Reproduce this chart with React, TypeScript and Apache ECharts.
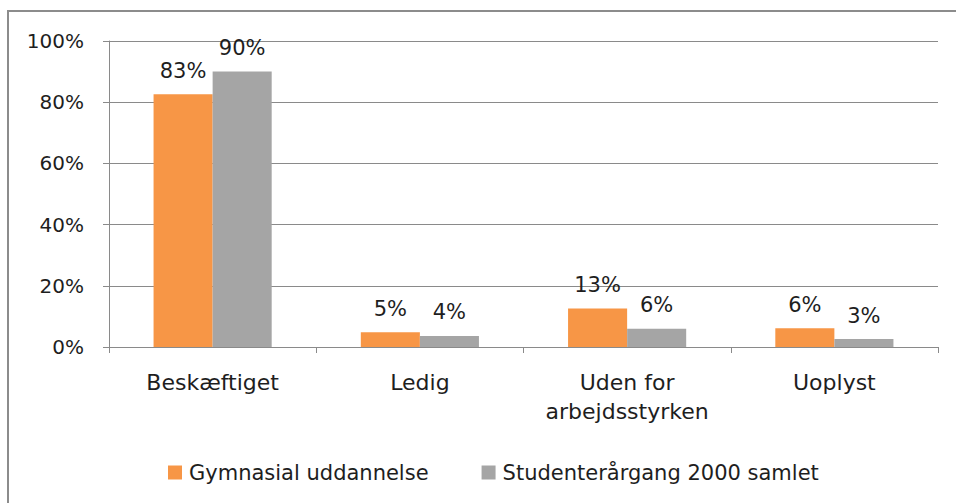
import React, { useEffect, useRef } from "react";
import * as echarts from "echarts";

const categories = ["Beskæftiget", "Ledig", "Uden for\narbejdsstyrken", "Uoplyst"];
const seriesNames = ["Gymnasial uddannelse", "Studenterårgang 2000 samlet"];
const gymnasial = [82.6, 4.8, 12.6, 6.1];
const samlet = [90.0, 3.6, 6.0, 2.6];
const yTicks = [0, 20, 40, 60, 80, 100];

const FONT = "DejaVu Sans";
const TEXT = "#1e1e1e";
const GRID = "#8a8a8a";

export default function App() {
  const ref = useRef<HTMLDivElement>(null);
  useEffect(() => {
    if (!ref.current) return;
    const chart = echarts.init(ref.current, undefined, { renderer: "svg" });
    const label = {
      show: true,
      position: "top",
      distance: 13,
      fontFamily: FONT,
      fontSize: 21,
      color: TEXT,
      formatter: (p: any) => Math.round(p.value) + "%",
    };
    chart.setOption({
      animation: false,
      backgroundColor: "#ffffff",
      graphic: [
        {
          type: "rect",
          shape: { x: 8, y: 11, width: 1000, height: 600 },
          style: { fill: "none", stroke: "#8c8c8c", lineWidth: 2 },
          silent: true,
        },
      ],
      grid: { left: 109, right: 18, top: 41, bottom: 156, containLabel: false },
      legend: {
        left: 163,
        top: 457,
        itemWidth: 14,
        itemHeight: 14,
        itemGap: 53,
        icon: "rect",
        textStyle: { fontFamily: FONT, fontSize: 21, color: TEXT, padding: [0, 0, 0, 2] },
        data: seriesNames,
      },
      xAxis: {
        type: "category",
        data: categories,
        axisLine: { show: true, lineStyle: { color: GRID, width: 1 } },
        axisTick: { show: true, length: 6, alignWithLabel: false, lineStyle: { color: GRID } },
        axisLabel: {
          margin: 21,
          fontFamily: FONT,
          fontSize: 22,
          color: TEXT,
          lineHeight: 29,
          interval: 0,
        },
      },
      yAxis: {
        type: "value",
        min: yTicks[0],
        max: yTicks[yTicks.length - 1],
        interval: 20,
        axisLine: { show: true, lineStyle: { color: GRID, width: 1 } },
        axisTick: { show: true, length: 6, inside: false, lineStyle: { color: GRID } },
        splitLine: { show: true, lineStyle: { color: GRID, width: 1 } },
        axisLabel: {
          margin: 25,
          fontFamily: FONT,
          fontSize: 20,
          color: TEXT,
          formatter: "{value}%",
        },
      },
      series: [
        {
          name: seriesNames[0],
          type: "bar",
          data: gymnasial,
          barGap: "0%",
          barCategoryGap: "43%",
          itemStyle: { color: "#F79646" },
          label,
        },
        {
          name: seriesNames[1],
          type: "bar",
          data: samlet,
          barGap: "0%",
          barCategoryGap: "43%",
          itemStyle: { color: "#A5A5A5" },
          label,
        },
      ],
    });
    return () => chart.dispose();
  }, []);
  return (
    <div
      ref={ref}
      style={{ position: "absolute", left: 0, top: 0, width: 956, height: 503 }}
    />
  );
}
